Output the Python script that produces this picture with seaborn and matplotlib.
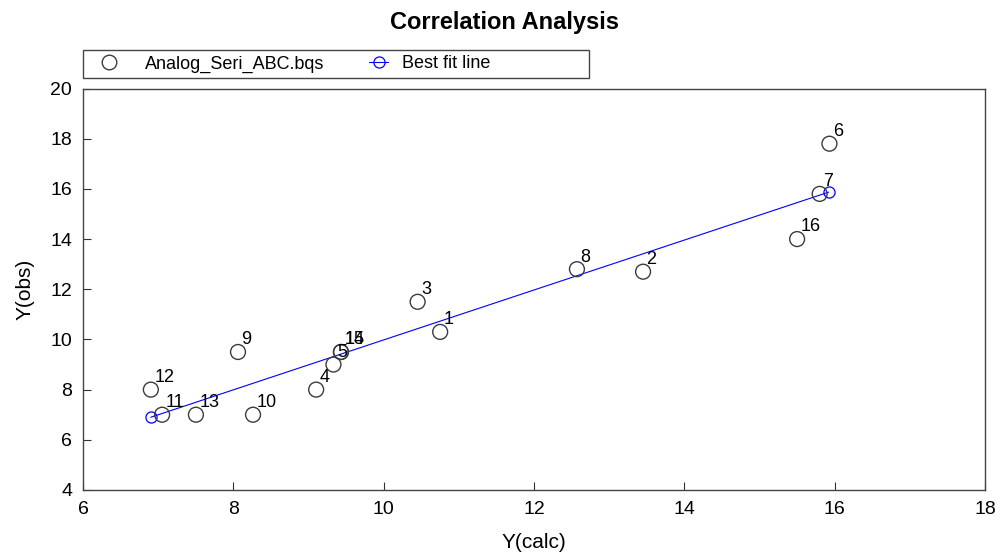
import matplotlib
matplotlib.use("Agg")
import matplotlib.pyplot as plt
from matplotlib.lines import Line2D
from matplotlib.patches import Rectangle
from matplotlib.legend_handler import HandlerLine2D
import seaborn as sns
import pandas as pd

# ---- data ----
point_ids = ["1", "2", "3", "4", "5", "6", "7", "8", "9", "10", "11", "12", "13", "14", "15", "16"]
y_calc = [10.75, 13.45, 10.45, 9.10, 9.33, 15.93, 15.80, 12.57, 8.06, 8.26, 7.05, 6.90, 7.50, 9.43, 9.43, 15.50]
y_obs = [10.3, 12.7, 11.5, 8.0, 9.0, 17.8, 15.8, 12.8, 9.5, 7.0, 7.0, 8.0, 7.0, 9.5, 9.5, 14.0]
fit_x = [6.90, 15.92]
fit_y = [6.90, 15.87]
x_ticks = [6, 8, 10, 12, 14, 16, 18]
y_ticks = [4, 6, 8, 10, 12, 14, 16, 18, 20]
series_name = "Analog_Seri_ABC.bqs"
fit_name = "Best fit line"

sns.set_style("ticks")
plt.rcParams["font.family"] = ["Liberation Sans", "DejaVu Sans"]
plt.rcParams["text.color"] = "black"
plt.rcParams["axes.labelcolor"] = "black"

W, H = 1001, 553
fig = plt.figure(figsize=(W / 100, H / 100), dpi=100)
ax = fig.add_axes([83.2 / W, 1 - 490 / H, (985 - 83.2) / W, (490 - 88.5) / H])

df = pd.DataFrame({"calc": y_calc, "obs": y_obs, "id": point_ids})
fit_df = pd.DataFrame({"x": fit_x, "y": fit_y})

pt_edge = "#3c3c3c"
sns.lineplot(data=fit_df, x="x", y="y", ax=ax, color="#0000ff", lw=0.8,
             marker="o", markersize=8, markerfacecolor="none",
             markeredgecolor="#0000ff", markeredgewidth=0.9, legend=False)
sns.scatterplot(data=df, x="calc", y="obs", ax=ax, s=115, marker="o",
                linewidth=1.0, legend=False, zorder=3)
pts = ax.collections[-1]
pts.set_facecolor("none")
pts.set_edgecolor(pt_edge)

for _, r in df.iterrows():
    ax.annotate(r["id"], (r["calc"], r["obs"]), xytext=(2.5, 5.5),
                textcoords="offset points", ha="left", va="baseline",
                fontsize=13, color="black", zorder=4)

ax.set_xlim(6, 18)
ax.set_ylim(4, 20)
ax.set_xticks(x_ticks)
ax.set_yticks(y_ticks)
ax.tick_params(axis="both", direction="in", length=6, width=0.8,
               labelsize=14, pad=8, colors="#333333", labelcolor="black",
               top=False, right=False)
for sp in ax.spines.values():
    sp.set_visible(True)
    sp.set_color("#444444")
    sp.set_linewidth(1.0)
ax.set_xlabel("Y(calc)", fontsize=15, labelpad=11, color="black")
ax.set_ylabel("Y(obs)", fontsize=15, labelpad=11, color="black")

fig.text(505 / W, 1 - 22 / H, "Correlation Analysis", ha="center", va="center",
         fontsize=17, fontweight="bold", color="black")

# legend
h1 = Line2D([], [], ls="none", marker="o", markersize=10.5, markerfacecolor="none",
            markeredgecolor=pt_edge, markeredgewidth=1.0)
h2 = Line2D([], [], color="#0000ff", lw=0.8, marker="o", markersize=8,
            markerfacecolor="none", markeredgecolor="#0000ff", markeredgewidth=0.9)
leg = fig.legend([h1, h2], [series_name, fit_name], ncol=2, loc="center left",
                 bbox_to_anchor=(83 / W, 1 - 64 / H), bbox_transform=fig.transFigure,
                 frameon=False, fontsize=13, borderpad=0.2, borderaxespad=0,
                 handlelength=2.5, handletextpad=0.73, columnspacing=1.05,
                 handler_map={h2: HandlerLine2D(xpad=1.44, numpoints=1)},
                 numpoints=1, labelcolor="black")
fig.add_artist(Rectangle((83 / W, 1 - 78 / H), 506 / W, 28 / H, transform=fig.transFigure,
                         fill=False, ec="#444444", lw=1.0))

fig.savefig("out.png", dpi=100)
